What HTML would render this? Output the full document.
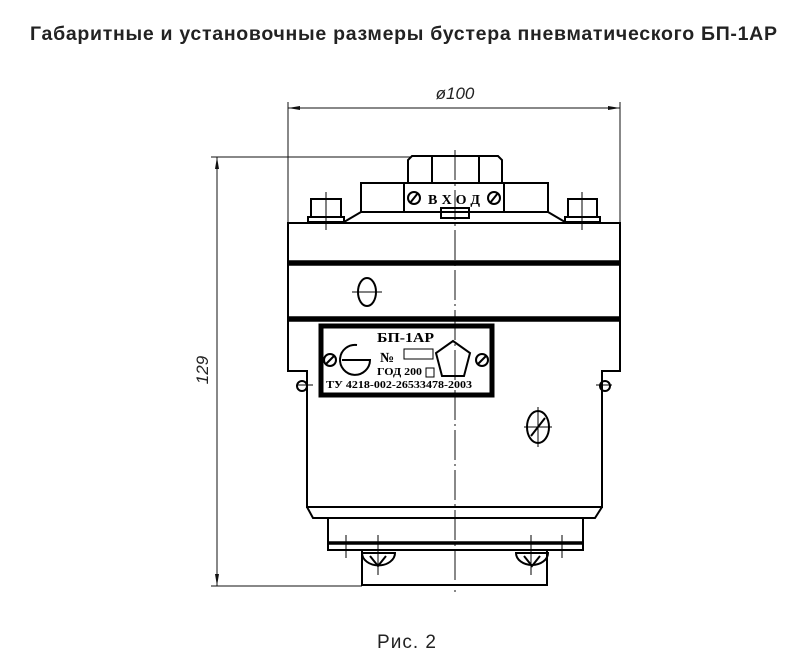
<!DOCTYPE html>
<html><head><meta charset="utf-8"><style>
body{margin:0;background:#fff;width:806px;height:662px;overflow:hidden}
</style></head><body>
<svg width="806" height="662" viewBox="0 0 806 662" xmlns="http://www.w3.org/2000/svg" font-family="Liberation Sans, sans-serif">
<text x="30" y="40" font-size="19.5" font-weight="bold" fill="#222" textLength="747" lengthAdjust="spacing">Габаритные и установочные размеры бустера пневматического БП-1АР</text>
<text x="377" y="648" font-size="19" fill="#222" textLength="59" lengthAdjust="spacing">Рис. 2</text>
<g stroke="#111" fill="none" stroke-width="1">
<line x1="288" y1="102" x2="288" y2="223"/>
<line x1="620" y1="102" x2="620" y2="223"/>
<line x1="288" y1="108" x2="620" y2="108"/>
<line x1="211" y1="157" x2="410" y2="157"/>
<line x1="211" y1="586" x2="362" y2="586"/>
<line x1="217" y1="157" x2="217" y2="586"/>
<line x1="455" y1="150" x2="455" y2="592" stroke-dasharray="30,4,2,4"/>
</g>
<g fill="#111">
<polygon points="288,108 300,106 300,110"/><polygon points="620,108 608,106 608,110"/>
<polygon points="217,157 215,169 219,169"/><polygon points="217,586 215,574 219,574"/>
</g>
<text x="455" y="99" text-anchor="middle" font-size="17" font-style="italic" fill="#222">ø100</text>
<text transform="translate(208,370) rotate(-90)" text-anchor="middle" font-size="17" font-style="italic" fill="#222">129</text>
<g stroke="#000" fill="none" stroke-width="2">
<path d="M408,183 V160 L412,156 H498 L502,160 V183"/>
<line x1="432" y1="157" x2="432" y2="183"/><line x1="479" y1="157" x2="479" y2="183"/>
<rect x="361" y="183" width="187" height="29"/>
<rect x="404" y="183" width="100" height="29"/>
<path d="M344,222 L361,212 M548,212 L565,222"/>
<rect x="441" y="208" width="28" height="10"/>
<rect x="311" y="199" width="30" height="18"/><rect x="308" y="217" width="36" height="5"/>
<rect x="568" y="199" width="29" height="18"/><rect x="565" y="217" width="35" height="5"/>
<rect x="288" y="223" width="332" height="40"/>
<rect x="288" y="263" width="332" height="56"/>
<path d="M288,319 V371 H307 V507 H602 V371 H620 V319"/>
<path d="M307,507 L313,518 H595 L602,507"/>
<rect x="328" y="518" width="255" height="32"/>
<rect x="362" y="550" width="185" height="35"/>
<ellipse cx="367" cy="292" rx="9" ry="14"/>
<ellipse cx="538" cy="427" rx="11" ry="16"/>
<line x1="531" y1="436" x2="545" y2="418"/>
<path d="M362,553 A16,12 0 0 0 395,553 Z"/><path d="M516,553 A16,12 0 0 0 548,553 Z"/>
<path d="M370,556 L378,566 L386,556 M524,556 L532,566 L540,556"/>
</g>
<g stroke="#000" stroke-width="5.5"><line x1="288" y1="263" x2="620" y2="263"/><line x1="288" y1="319" x2="620" y2="319"/></g>
<line x1="328" y1="543" x2="583" y2="543" stroke="#000" stroke-width="3.5"/>
<g stroke="#000" stroke-width="1">
<line x1="352" y1="292" x2="382" y2="292"/><line x1="524" y1="427" x2="552" y2="427"/><line x1="538" y1="407" x2="538" y2="447"/>
<line x1="326" y1="192" x2="326" y2="230"/><line x1="582" y1="192" x2="582" y2="230"/>
<line x1="297" y1="385" x2="313" y2="385"/><line x1="596" y1="385" x2="612" y2="385"/>
<line x1="346" y1="535" x2="346" y2="558"/><line x1="378" y1="535" x2="378" y2="575"/>
<line x1="531" y1="535" x2="531" y2="575"/><line x1="562" y1="535" x2="562" y2="558"/>
</g>
<g stroke="#000" stroke-width="2" fill="none">
<circle cx="414" cy="198" r="6"/><line x1="410" y1="203" x2="418" y2="193"/>
<circle cx="494" cy="198" r="6"/><line x1="490" y1="203" x2="498" y2="193"/>
<circle cx="302" cy="386" r="5"/><circle cx="605" cy="386" r="5"/>
</g>
<text x="428" y="204" font-family="Liberation Serif, serif" font-weight="bold" font-size="14" fill="#000" textLength="52" lengthAdjust="spacing">ВХОД</text>
<rect x="321" y="326" width="171" height="69" fill="none" stroke="#000" stroke-width="5"/>
<text x="377" y="342" font-family="Liberation Serif, serif" font-weight="bold" font-size="14" textLength="57" lengthAdjust="spacingAndGlyphs">БП-1АР</text>
<text x="380" y="362" font-family="Liberation Serif, serif" font-weight="bold" font-size="14">№</text>
<rect x="404" y="349" width="29" height="10" fill="none" stroke="#000"/>
<text x="377" y="375" font-family="Liberation Serif, serif" font-weight="bold" font-size="10" textLength="45" lengthAdjust="spacingAndGlyphs">ГОД 200</text>
<rect x="426" y="368" width="8" height="9" fill="none" stroke="#000"/>
<text x="326" y="388" font-family="Liberation Serif, serif" font-weight="bold" font-size="10" textLength="146" lengthAdjust="spacingAndGlyphs">ТУ 4218-002-26533478-2003</text>
<g stroke="#000" stroke-width="2" fill="none">
<path d="M357,345 A15,15 0 1 0 370,360 H342"/>
<polygon points="453,341 470,353 464,376 442,376 436,353"/>
<circle cx="330" cy="360" r="6"/><line x1="326" y1="364" x2="334" y2="356"/>
<circle cx="482" cy="360" r="6"/><line x1="478" y1="364" x2="486" y2="356"/>
</g>
</svg>
</body></html>
